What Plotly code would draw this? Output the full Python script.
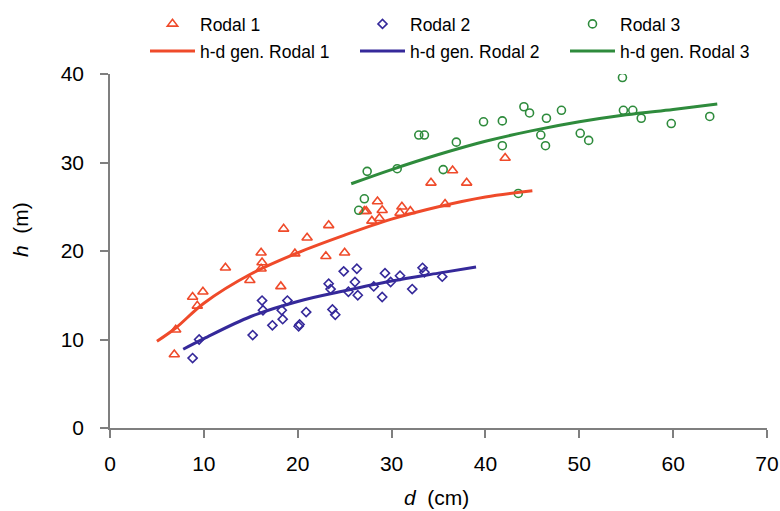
import plotly.graph_objects as go

# ---- data ----
r1_d = [6.85, 7.0, 8.8, 9.3, 9.9, 12.3, 14.9, 16.1, 16.2, 16.1, 18.2, 18.5, 19.7, 21.0, 23.3, 23.0,
        25.0, 27.1, 27.3, 27.9, 28.5, 28.7, 29.0, 30.9, 31.1, 32.0, 34.2, 35.7, 36.5, 38.0, 42.1]
r1_h = [8.3, 11.1, 14.8, 13.8, 15.4, 18.1, 16.7, 19.8, 18.7, 18.0, 16.0, 22.5, 19.7, 21.5, 22.9, 19.4,
        19.8, 24.5, 24.5, 23.4, 25.6, 23.7, 24.6, 24.3, 25.0, 24.5, 27.7, 25.3, 29.1, 27.7, 30.5]

r2_d = [8.8, 9.5, 15.2, 16.2, 16.3, 17.3, 18.4, 18.3, 18.9, 20.1, 20.2, 20.9, 23.3, 23.5, 24.9, 23.7,
        24.0, 26.3, 26.1, 25.4, 26.4, 28.1, 29.3, 29.9, 29.0, 30.9, 32.2, 33.3, 33.5, 35.4]
r2_h = [7.9, 10.0, 10.5, 14.4, 13.3, 11.6, 12.3, 13.3, 14.4, 11.5, 11.7, 13.1, 16.3, 15.7, 17.7, 13.4,
        12.8, 18.0, 16.5, 15.4, 15.0, 16.0, 17.5, 16.5, 14.8, 17.2, 15.7, 18.1, 17.6, 17.1]

r3_d = [54.6, 54.7, 55.7, 56.6, 59.8, 63.9, 44.1, 44.7, 48.1, 46.5, 41.8, 39.8, 45.9, 46.4, 50.1, 51.0,
        41.8, 32.9, 33.5, 36.9, 27.4, 30.6, 35.5, 43.5, 27.1, 26.5]
r3_h = [39.6, 35.9, 35.9, 35.0, 34.4, 35.2, 36.3, 35.6, 35.9, 35.0, 34.7, 34.6, 33.1, 31.9, 33.3, 32.5,
        31.9, 33.1, 33.1, 32.3, 29.0, 29.3, 29.2, 26.5, 25.9, 24.6]

g1_d = [5, 7, 10, 15, 20, 25, 30, 35, 40, 45]
g1_h = [9.8, 11.3, 14.1, 17.4, 19.8, 21.8, 23.6, 25.0, 26.1, 26.8]

g2_d = [7.8, 10, 15, 20, 25, 30, 35, 39]
g2_h = [8.9, 10.1, 12.6, 14.3, 15.5, 16.6, 17.5, 18.2]

g3_d = [25.7, 30, 35, 40, 45, 50, 55, 60, 64.7]
g3_h = [27.6, 29.2, 30.9, 32.4, 33.6, 34.6, 35.4, 36.0, 36.6]

x_ticks = [0, 10, 20, 30, 40, 50, 60, 70]
y_ticks = [0, 10, 20, 30, 40]

RED = "#EF4A2A"
BLUE = "#35299A"
GREEN = "#2E8B3C"

W, H = 780, 511
LEG_FONT = dict(family="Liberation Sans, Arial", size=17.5, color="black")
TICK_FONT = dict(family="Liberation Sans, Arial", size=21, color="black")
TITLE_FONT = dict(family="Liberation Sans, Arial", size=21, color="black")

fig = go.Figure()
fig.add_trace(go.Scatter(x=r1_d, y=r1_h, mode="markers", name="Rodal 1", legend="legend2",
                         marker=dict(symbol="triangle-up-open", size=9, color=RED, line=dict(width=1.6, color=RED))))
fig.add_trace(go.Scatter(x=r2_d, y=r2_h, mode="markers", name="Rodal 2", legend="legend3",
                         marker=dict(symbol="diamond-open", size=7, color=BLUE, line=dict(width=1.6, color=BLUE))))
fig.add_trace(go.Scatter(x=r3_d, y=r3_h, mode="markers", name="Rodal 3", legend="legend4",
                         marker=dict(symbol="circle-open", size=8, color=GREEN, line=dict(width=1.6, color=GREEN))))
fig.add_trace(go.Scatter(x=g1_d, y=g1_h, mode="lines", name="h-d gen. Rodal 1", legend="legend5",
                         line=dict(color=RED, width=3, shape="spline")))
fig.add_trace(go.Scatter(x=g2_d, y=g2_h, mode="lines", name="h-d gen. Rodal 2", legend="legend6",
                         line=dict(color=BLUE, width=3, shape="spline")))
fig.add_trace(go.Scatter(x=g3_d, y=g3_h, mode="lines", name="h-d gen. Rodal 3", legend="legend7",
                         line=dict(color=GREEN, width=3, shape="spline")))

axis_common = dict(showgrid=False, zeroline=False, showline=True, linecolor="#7f7f7f", linewidth=1.5,
                   ticks="outside", ticklen=8, tickwidth=1.5, tickcolor="#7f7f7f", tickfont=TICK_FONT,
                   automargin=False, ticklabeloverflow="allow")


def leg(px_left, py_mid):
    return dict(xref="container", yref="container", x=px_left / W, y=1 - py_mid / H,
                xanchor="left", yanchor="middle", font=LEG_FONT, itemwidth=45,
                bgcolor="rgba(0,0,0,0)", borderwidth=0)


cols = [145, 355, 565]
rows = [24, 51]

fig.update_layout(
    width=W, height=H,
    showlegend=True,
    margin=dict(l=110, r=13, t=74, b=83, autoexpand=False),
    paper_bgcolor="white", plot_bgcolor="white",
    xaxis=dict(range=[0, 70], tickvals=x_ticks, ticklabelstandoff=8, **axis_common),
    yaxis=dict(range=[0, 40], tickvals=y_ticks, ticklabelstandoff=12, **axis_common),
    legend2=leg(cols[0], rows[0]),
    legend3=leg(cols[1], rows[0]),
    legend4=leg(cols[2], rows[0]),
    legend5=leg(cols[0], rows[1]),
    legend6=leg(cols[1], rows[1]),
    legend7=leg(cols[2], rows[1]),
    annotations=[
        dict(text="<i>d</i>  (cm)", xref="paper", yref="paper", x=0.497, y=-0.196,
             showarrow=False, xanchor="center", yanchor="middle", font=TITLE_FONT),
        dict(text="<i>h</i>  (m)", xref="paper", yref="paper", x=-0.136, y=0.561, textangle=-90,
             showarrow=False, xanchor="center", yanchor="middle", font=TITLE_FONT),
    ],
)

fig.write_html("out.html", config={"displayModeBar": False},
               post_script="document.body.style.margin='0';document.body.style.overflow='hidden';")
